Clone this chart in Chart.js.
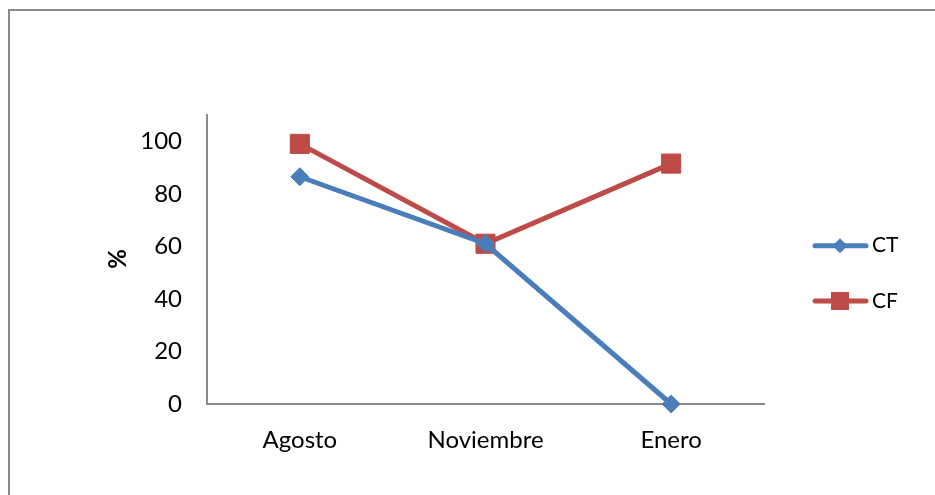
<!DOCTYPE html>
<html>
<head>
<meta charset="utf-8">
<script src="https://cdn.jsdelivr.net/npm/chart.js@4/dist/chart.umd.min.js"></script>
<style>
  html, body { margin: 0; padding: 0; background: #ffffff; overflow: hidden; }
  #wrap { position: relative; width: 935px; height: 495px; }
  #frame { position: absolute; left: 8px; top: 9px; width: 1000px; height: 600px;
           border-left: 2px solid #8a8a8a; border-top: 2px solid #8a8a8a; box-sizing: border-box; }
  canvas { position: absolute; left: 0; top: 0; }
</style>
</head>
<body>
<div id="wrap">
  <div id="frame"></div>
  <canvas id="chart" width="935" height="495"></canvas>
</div>
<script>
const categories = ['Agosto', 'Noviembre', 'Enero'];
const seriesNames = ['CT', 'CF'];
const ctValues = [86.5, 61, 0];
const cfValues = [99, 61, 91.5];
const yTickValues = [0, 20, 40, 60, 80, 100];
const yAxisTitle = '%';

const BLUE = '#4A7EBB';
const RED = '#BE4B48';
const FONT = 'Lato, "Liberation Sans", sans-serif';

// Legend on the right: a short line with the series marker in the middle.
const sideLegend = {
  id: 'sideLegend',
  afterDraw(chart) {
    const ctx = chart.ctx;
    const rows = [245.7, 301];
    chart.data.datasets.forEach((ds, i) => {
      const y = rows[i];
      ctx.save();
      ctx.strokeStyle = ds.borderColor;
      ctx.lineWidth = 5;
      ctx.lineCap = 'round';
      ctx.beginPath();
      ctx.moveTo(815, y);
      ctx.lineTo(866, y);
      ctx.stroke();
      ctx.fillStyle = ds.borderColor;
      ctx.beginPath();
      if (ds.pointStyle === 'rectRot') {
        const r = 7.5;
        ctx.moveTo(840 - r, y); ctx.lineTo(840, y - r);
        ctx.lineTo(840 + r, y); ctx.lineTo(840, y + r);
        ctx.closePath();
      } else {
        ctx.rect(840 - 9, y - 9, 18, 18);
      }
      ctx.fill();
      ctx.fillStyle = '#000000';
      ctx.font = '21px ' + FONT;
      ctx.textBaseline = 'middle';
      ctx.textAlign = 'left';
      ctx.fillText(ds.label, 872, y);
      ctx.restore();
    });
    // rotated y axis title
    ctx.save();
    ctx.translate(118, 259);
    ctx.rotate(-Math.PI / 2);
    ctx.fillStyle = '#000000';
    ctx.font = 'bold 24px ' + FONT;
    ctx.textAlign = 'center';
    ctx.textBaseline = 'middle';
    ctx.fillText(yAxisTitle, 0, 0);
    ctx.restore();
  }
};

new Chart(document.getElementById('chart'), {
  type: 'line',
  data: {
    labels: categories,
    datasets: [
      { label: seriesNames[0], data: ctValues, borderColor: BLUE, backgroundColor: BLUE,
        borderWidth: 5, pointStyle: 'rectRot', pointRadius: 9, pointBorderWidth: 1,
        pointBackgroundColor: BLUE, pointBorderColor: BLUE, tension: 0, clip: false },
      { label: seriesNames[1], data: cfValues, borderColor: RED, backgroundColor: RED,
        borderWidth: 5, pointStyle: 'rect', pointRadius: 13.5, pointBorderWidth: 1,
        pointBackgroundColor: RED, pointBorderColor: RED, tension: 0, clip: false }
    ]
  },
  options: {
    responsive: false,
    animation: false,
    devicePixelRatio: 1,
    layout: { padding: { left: 0, top: 115, right: 171, bottom: 0 } },
    plugins: { legend: { display: false }, tooltip: { enabled: false } },
    scales: {
      x: {
        offset: true,
        grid: { display: false, drawTicks: false },
        border: { display: true, color: '#8a8a8a', width: 2 },
        ticks: { color: '#000000', font: { family: FONT, size: 24 }, padding: 22, maxRotation: 0 },
        afterFit(scale) { scale.height = 91; }
      },
      y: {
        min: 0,
        max: 110,
        grid: { display: false, drawTicks: false },
        border: { display: true, color: '#8a8a8a', width: 2 },
        ticks: { color: '#000000', font: { family: FONT, size: 24 }, padding: 25, stepSize: 20 },
        afterBuildTicks(scale) { scale.ticks = yTickValues.map(v => ({ value: v })); },
        afterFit(scale) { scale.width = 207; }
      }
    }
  },
  plugins: [sideLegend]
});
</script>
</body>
</html>
